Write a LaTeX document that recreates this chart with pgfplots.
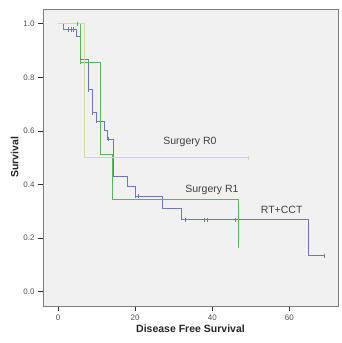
\documentclass[border=0pt]{standalone}
\usepackage{pgfplots}
\pgfplotsset{compat=1.18}
\usepackage{fontspec}
\setmainfont{Liberation Sans}
\definecolor{bg}{RGB}{241,241,241}
\definecolor{frame}{RGB}{125,125,125}
\definecolor{rzero}{RGB}{208,218,168}
\definecolor{rone}{RGB}{92,180,92}
\definecolor{rtc}{RGB}{108,118,194}
\definecolor{ticktext}{RGB}{80,80,80}
\begin{document}
\begin{tikzpicture}
\begin{axis}[
  name=km,
  scale only axis,
  width=295pt, height=297pt,
  xmin=-3.9, xmax=72.6,
  ymin=-0.053, ymax=1.055,
  xtick={0,20,40,60},
  ytick={0,0.2,0.4,0.6,0.8,1.0},
  yticklabel style={/pgf/number format/.cd,fixed,fixed zerofill,precision=1},
  /pgf/number format/assume math mode=true,
  tick align=outside,
  tick pos=left,
  major tick length=5pt,
  tick style={black!80, line width=0.9pt},
  ticklabel style={font=\fontsize{8}{9}\selectfont, text=ticktext},
  axis background/.style={fill=bg},
  axis line style={frame, line width=0.9pt},
  xlabel={\textbf{Disease Free Survival}},
  ylabel={\textbf{Survival}},
  label style={font=\fontsize{10.5}{12}\selectfont, text=black!85},
  xlabel style={yshift=2pt},
  ylabel style={yshift=-2pt},
  clip=false,
]
% RT+CCT
\addplot[const plot, rtc, line width=1pt] coordinates {
  (0,1) (1.4,1) (1.4,0.978) (4.85,0.978) (4.85,0.952) (5.7,0.952) (5.7,0.865)
  (7.9,0.865) (7.9,0.755) (8.9,0.755) (8.9,0.669) (10.0,0.669) (10.0,0.637)
  (12.0,0.637) (12.0,0.603) (12.9,0.603) (12.9,0.569) (14.3,0.569) (14.3,0.43)
  (17.9,0.43) (17.9,0.393) (20.0,0.393) (20.0,0.357) (27.0,0.357) (27.0,0.311)
  (32.1,0.311) (32.1,0.268) (64.9,0.268) (64.9,0.134) (69.1,0.134)};
\addplot[only marks, mark=|, mark size=2.2pt, rtc, line width=0.8pt] coordinates {
  (2.7,0.978) (3.4,0.978) (4.1,0.978) (5.9,0.865) (7.9,0.755) (8.9,0.669) (10.0,0.637)
  (13.0,0.569) (20.1,0.357) (20.8,0.357) (32.9,0.268) (37.9,0.268) (38.7,0.268)
  (45.9,0.268) (69.1,0.134)};
% Surgery R1
\addplot[const plot, rone, line width=1pt] coordinates {
  (0,1) (5.9,1) (5.9,0.857) (10.9,0.857) (10.9,0.514) (14.0,0.514) (14.0,0.343) (46.9,0.343) (46.9,0.171)};
\addplot[only marks, mark=|, mark size=2.2pt, rone, line width=0.8pt] coordinates {(5.0,1) (5.9,0.857) (46.9,0.171)};
% Surgery R0
\addplot[const plot, rzero, line width=1pt] coordinates {
  (0,1) (6.8,1) (6.8,0.5) (49.4,0.5)};
\addplot[only marks, mark=|, mark size=2.2pt, rzero, line width=0.8pt] coordinates {(49.4,0.5)};
\node[font=\fontsize{10.5}{12}\selectfont, text=black!75] at (axis cs:34.2,0.560) {Surgery R0};
\node[font=\fontsize{10.5}{12}\selectfont, text=black!75] at (axis cs:39.9,0.379) {Surgery R1};
\node[font=\fontsize{10.5}{12}\selectfont, text=black!75] at (axis cs:58.0,0.307) {RT+CCT};
\end{axis}
\pgfresetboundingbox
\path ([shift={(-43pt,-37pt)}]km.south west) rectangle ([shift={(3pt,9pt)}]km.north east);
\end{tikzpicture}
\end{document}
